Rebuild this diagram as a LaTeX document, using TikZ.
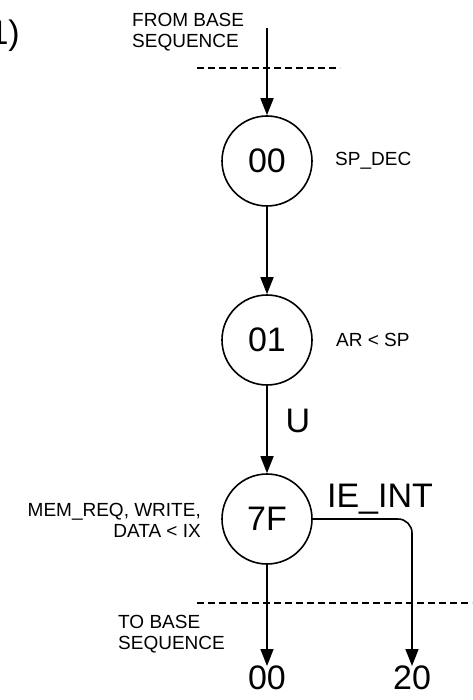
\documentclass[tikz,border=0pt]{standalone}
\usepackage{fontspec}
\setmainfont{Liberation Sans}
\usetikzlibrary{arrows.meta}
\begin{document}
\begin{tikzpicture}[x=1pt,y=-1pt,
  state/.style={draw,circle,line width=1.6pt,minimum size=90pt,inner sep=0pt,font=\fontsize{34}{34}\selectfont},
  conn/.style={line width=1.6pt,-{Triangle[length=17pt,width=13pt]}},
  sep/.style={line width=1.2pt,dash pattern=on 7pt off 4pt},
  small/.style={font=\fontsize{19}{21}\selectfont,inner sep=0pt},
  big/.style={font=\fontsize{34}{34}\selectfont,inner sep=0pt}]
\useasboundingbox (0,0) rectangle (472,700);
\node[big,anchor=east] (tag) at (20,36) {1)};
\node[small,anchor=north west,align=left] (from) at (132,13) {FROM BASE\\SEQUENCE};
\coordinate (start) at (267,28);
\coordinate (d1l) at (197,68);
\coordinate (d1r) at (340,68);
\draw[sep] (d1l) -- (d1r);
\node[state] (s00) at (267,161) {00};
\node[state] (s01) at (267,340) {01};
\node[state] (s7F) at (267,519) {7F};
\node[small,anchor=west] (spdec) at (335,161) {SP\_DEC};
\node[small,anchor=west] (arsp) at (336,340) {AR < SP};
\node[small,anchor=east,align=right] (mem) at (201,520) {MEM\_REQ, WRITE,\\DATA < IX};
\node[big] (u) at (298,421) {U};
\node[big] (ie) at (380,499) {IE\_INT};
\coordinate (d2l) at (197,603);
\coordinate (d2r) at (472,603);
\draw[sep] (d2l) -- (d2r);
\node[big,anchor=north] (o00) at (267,666) {00};
\node[big,anchor=north] (o20) at (412,666) {20};
\node[small,anchor=north west,align=left] (to) at (118,615) {TO BASE\\SEQUENCE};
\draw[conn] (start) -- (s00);
\draw[conn] (s00) -- (s01);
\draw[conn] (s01) -- (s7F);
\draw[conn] (s7F) -- (o00);
\draw[conn,rounded corners=14pt] (s7F.east) -- (o20.north |- s7F.east) -- (o20);
\end{tikzpicture}
\end{document}
